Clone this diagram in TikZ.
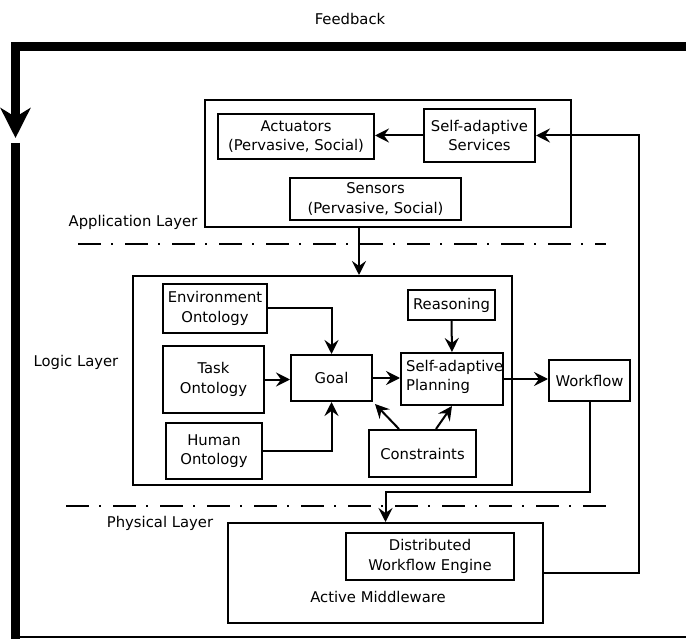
\documentclass[tikz,border=0pt]{standalone}
\usepackage{fontspec}
\setmainfont{DejaVu Sans}
\usetikzlibrary{arrows.meta,calc}
\begin{document}
\begin{tikzpicture}[x=1pt,y=-1pt,
  every node/.style={font=\fontsize{14.8}{19.5}\selectfont},
  box/.style={draw, line width=2pt, inner sep=0pt, align=center},
  lbl/.style={inner sep=0pt},
  conn/.style={line width=2pt, -{Stealth[length=14pt,width=14pt,inset=5pt]}},
  layerline/.style={line width=2pt, dash pattern=on 23pt off 10pt on 2pt off 12pt},
  fbline/.style={line width=9pt}]
\useasboundingbox (0,0) rectangle (686,639);

% ---- feedback loop around the whole stack
\node[lbl] (fbtext) at (350,19) {Feedback};
\coordinate (fbR) at (690,46.5);
\coordinate (fbL) at (15.5,46.5);
\coordinate (fbT) at (15.5,138);
\coordinate (fbB) at (15.5,143);
\coordinate (fbC) at (15.5,639);
\coordinate (frBL) at (15.5,637);
\coordinate (frBR) at (690,637);
\draw[fbline, -{Stealth[length=30pt,width=30pt,inset=9pt]}] (fbR) -- (fbL) -- (fbT);
\draw[fbline] (fbB) -- (fbC);
\draw[line width=2pt] (frBL) -- (frBR);

% ---- application layer
\node[box, minimum width=366pt, minimum height=127pt] (app) at (388,163.5) {};
\node[box, minimum width=156pt, minimum height=45pt] (act) at (296,136.5) {Actuators\\(Pervasive, Social)};
\node[box, minimum width=111pt, minimum height=53pt] (serv) at (479.5,135.5) {Self-adaptive\\Services};
\node[box, minimum width=171pt, minimum height=42pt] (sens) at (375.5,199) {Sensors\\(Pervasive, Social)};
\node[lbl] (applbl) at (133,222) {Application Layer};

% ---- layer separators
\coordinate (l1a) at (78,244);
\coordinate (l1b) at (606,244);
\coordinate (l2a) at (66,506);
\coordinate (l2b) at (606,506);
\draw[layerline] (l1a) -- (l1b);
\draw[layerline] (l2a) -- (l2b);

% ---- logic layer
\node[box, minimum width=379pt, minimum height=209pt] (logic) at (322.5,380.5) {};
\node[lbl] (logiclbl) at (76,362) {Logic Layer};
\node[box, minimum width=104pt, minimum height=49pt] (env) at (215,308.5) {Environment\\Ontology};
\node[box, minimum width=101pt, minimum height=67pt] (task) at (213.5,379.5) {Task\\Ontology};
\node[box, minimum width=96pt, minimum height=56pt] (human) at (214,451) {Human\\Ontology};
\node[box, minimum width=81pt, minimum height=46pt] (goal) at (331.5,378) {Goal};
\node[box, minimum width=87pt, minimum height=30pt] (reas) at (451.5,305) {Reasoning};
\node[box, minimum width=102pt, minimum height=52pt] (plan) at (452,379) {};
\node[lbl, anchor=west, align=left] (plantext) at ($(plan.west)+(6,-2)$) {Self-adaptive\\Planning};
\node[box, minimum width=107pt, minimum height=47pt] (cons) at (422.5,453.5) {Constraints};
\node[box, minimum width=81pt, minimum height=41pt] (wf) at (589.5,380.5) {Workflow};

% ---- physical layer
\node[lbl] (phylbl) at (160,523) {Physical Layer};
\node[box, minimum width=315pt, minimum height=100pt] (mw) at (385.5,573) {};
\node[box, minimum width=168pt, minimum height=47pt] (dwe) at (430,556.5) {Distributed\\Workflow Engine};
\node[lbl] (mwtext) at (378,597) {Active Middleware};

% ---- connectors
\coordinate (ax) at (359,0);
\coordinate (rx) at (639,0);
\coordinate (wb) at (385.5,492);
\draw[conn] (serv.west) -- (serv.west -| act.east);
\draw[conn] (mw.east) -- (mw.east -| rx) |- (serv.east);
\draw[conn] (app.south -| ax) -- (logic.north -| ax);
\draw[conn] (env.east) -| (goal.north);
\draw[conn] (task.east) -- (task.east -| goal.west);
\draw[conn] (human.east) -| (goal.south);
\draw[conn] (goal.east) -- (goal.east -| plan.west);
\draw[conn] (reas.south) -- (plan.south |- plan.north);
\draw[conn] ($(cons.north west)+(31,0)$) -- ($(goal.south east)+(2,2)$);
\draw[conn] ($(cons.north west)+(68,0)$) -- (plan.south);
\draw[conn] (plan.east) -- (plan.east -| wf.west);
\draw[conn] (wf.south) |- (wb) -- (mw.north);
\end{tikzpicture}
\end{document}
